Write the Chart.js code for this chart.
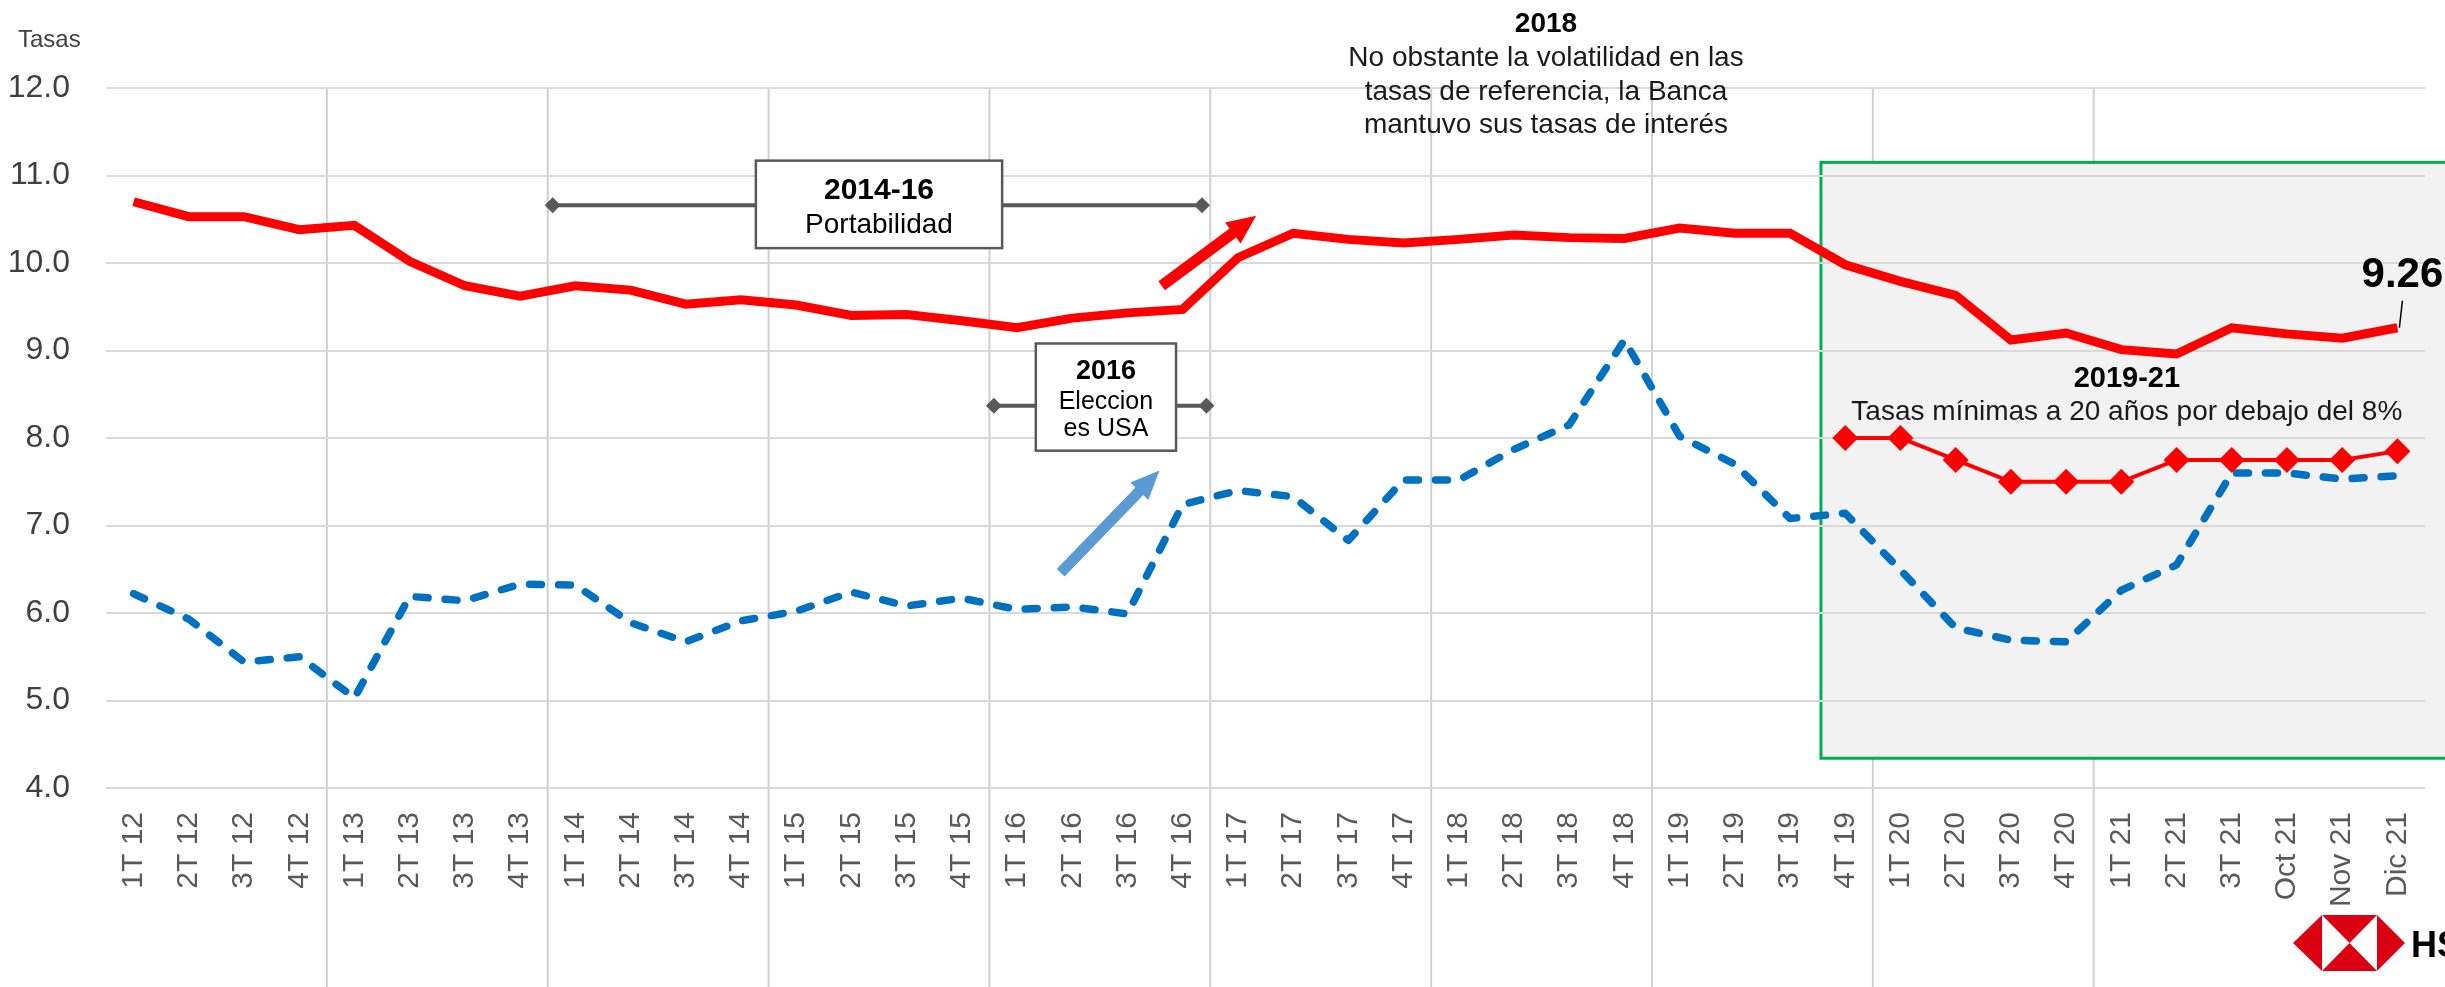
<!DOCTYPE html>
<html lang="es">
<head>
<meta charset="UTF-8">
<title>Tasas de interés</title>
<style>
  html, body { margin: 0; padding: 0; background: #fff; }
  #wrap { width: 2445px; height: 987px; }
</style>
</head>
<body>
<div id="wrap"><canvas id="chart" width="2445" height="987"></canvas></div>
<script src="https://cdn.jsdelivr.net/npm/chart.js"></script>
<script>
// datos
const periodos = [
  '1T 12','2T 12','3T 12','4T 12','1T 13','2T 13','3T 13','4T 13',
  '1T 14','2T 14','3T 14','4T 14','1T 15','2T 15','3T 15','4T 15',
  '1T 16','2T 16','3T 16','4T 16','1T 17','2T 17','3T 17','4T 17',
  '1T 18','2T 18','3T 18','4T 18','1T 19','2T 19','3T 19','4T 19',
  '1T 20','2T 20','3T 20','4T 20','1T 21','2T 21','3T 21',
  'Oct 21','Nov 21','Dic 21'
];
const tasaBanca = [
  10.70, 10.53, 10.53, 10.38, 10.43, 10.02, 9.74, 9.62,
  9.74, 9.69, 9.53, 9.58, 9.52, 9.40, 9.41, 9.34,
  9.26, 9.37, 9.43, 9.47, 10.06, 10.34, 10.27, 10.23,
  10.27, 10.32, 10.29, 10.28, 10.40, 10.34, 10.34, 9.98,
  9.79, 9.63, 9.12, 9.20, 9.01, 8.96, 9.26,
  9.19, 9.14, 9.26
];
const tasaReferencia = [
  6.22, 5.93, 5.44, 5.50, 5.03, 6.19, 6.14, 6.33,
  6.32, 5.89, 5.67, 5.91, 6.02, 6.24, 6.08, 6.17,
  6.04, 6.07, 5.99, 7.24, 7.40, 7.33, 6.83, 7.52,
  7.52, 7.87, 8.15, 9.12, 8.02, 7.70, 7.08, 7.14,
  6.49, 5.83, 5.69, 5.67, 6.26, 6.55, 7.60,
  7.60, 7.53, 7.57
];
const tasaMinima = [
  null, null, null, null, null, null, null, null,
  null, null, null, null, null, null, null, null,
  null, null, null, null, null, null, null, null,
  null, null, null, null, null, null, null, 8.00,
  8.00, 7.75, 7.50, 7.50, 7.50, 7.75, 7.75,
  7.75, 7.75, 7.85
];
const ejeMin = 4;
const ejeMax = 12;
const ejePaso = 1;

const FONT = '"Liberation Sans", Arial, sans-serif';
const ROJO = '#ff0000';

function poly(ctx, pts, color) {
  ctx.beginPath();
  ctx.moveTo(pts[0][0], pts[0][1]);
  for (let i = 1; i < pts.length; i++) ctx.lineTo(pts[i][0], pts[i][1]);
  ctx.closePath();
  ctx.fillStyle = color;
  ctx.fill();
}

function diamond(ctx, x, y, r, color) {
  poly(ctx, [[x - r, y], [x, y - r], [x + r, y], [x, y + r]], color);
}

function arrow(ctx, x1, y1, x2, y2, w, hw, hl, color) {
  const dx = x2 - x1, dy = y2 - y1, len = Math.hypot(dx, dy);
  const ux = dx / len, uy = dy / len, nx = -uy, ny = ux;
  const bx = x2 - ux * hl, by = y2 - uy * hl;
  poly(ctx, [
    [x1 + nx * w / 2, y1 + ny * w / 2],
    [bx + nx * w / 2, by + ny * w / 2],
    [bx + nx * hw / 2, by + ny * hw / 2],
    [x2, y2],
    [bx - nx * hw / 2, by - ny * hw / 2],
    [bx - nx * w / 2, by - ny * w / 2],
    [x1 - nx * w / 2, y1 - ny * w / 2]
  ], color);
}

function bracketBox(chart, x1, x2, yv, bl, br, bt, bb, lines) {
  const {ctx, scales: {x, y}} = chart;
  const px1 = x.getPixelForValue(x1), px2 = x.getPixelForValue(x2), py = y.getPixelForValue(yv);
  ctx.strokeStyle = '#595959';
  ctx.lineWidth = 4;
  ctx.beginPath(); ctx.moveTo(px1, py); ctx.lineTo(px2, py); ctx.stroke();
  diamond(ctx, px1, py, 8, '#595959');
  diamond(ctx, px2, py, 8, '#595959');
  const l = x.getPixelForValue(bl), r = x.getPixelForValue(br);
  const t = y.getPixelForValue(bt), b = y.getPixelForValue(bb);
  ctx.fillStyle = '#ffffff';
  ctx.fillRect(l, t, r - l, b - t);
  ctx.strokeStyle = '#595959';
  ctx.lineWidth = 2.5;
  ctx.strokeRect(l, t, r - l, b - t);
  ctx.textAlign = 'center';
  ctx.textBaseline = 'alphabetic';
  ctx.fillStyle = '#000';
  lines.forEach(([txt, font, dy]) => {
    ctx.font = font;
    ctx.fillText(txt, (l + r) / 2, t + dy);
  });
}

const decor = {
  id: 'decor',
  beforeDraw(chart) {
    const {ctx, chartArea, scales: {x, y}} = chart;
    ctx.save();
    // lineas verticales cada año
    ctx.strokeStyle = '#d0d0d0';
    ctx.lineWidth = 2;
    for (let i = 4; i <= 36; i += 4) {
      const xp = (x.getPixelForValue(i - 1) + x.getPixelForValue(i)) / 2;
      ctx.beginPath(); ctx.moveTo(xp, chartArea.top); ctx.lineTo(xp, chart.height); ctx.stroke();
    }
    // recuadro 2019-21
    const bx = x.getPixelForValue(30.56);
    const by = y.getPixelForValue(11.15);
    const bb = y.getPixelForValue(4.34);
    ctx.fillStyle = '#f2f2f2';
    ctx.fillRect(bx, by, chart.width - bx + 10, bb - by);
    ctx.strokeStyle = '#00b050';
    ctx.lineWidth = 3;
    ctx.strokeRect(bx, by, chart.width - bx + 10, bb - by);
    ctx.restore();
  },
  afterDraw(chart) {
    const {ctx, scales: {x, y}} = chart;
    ctx.save();

    // titulo eje
    ctx.font = '24px ' + FONT;
    ctx.fillStyle = '#404040';
    ctx.textAlign = 'left';
    ctx.textBaseline = 'alphabetic';
    ctx.fillText('Tasas', 18, 47);

    // 2014-16
    bracketBox(chart, 7.59, 19.35, 10.66, 11.27, 15.73, 11.17, 10.17, [
      ['2014-16', 'bold 30px ' + FONT, 38],
      ['Portabilidad', '28px ' + FONT, 72]
    ]);
    // 2016
    bracketBox(chart, 15.58, 19.43, 8.37, 16.34, 18.88, 9.08, 7.855, [
      ['2016', 'bold 27px ' + FONT, 35],
      ['Eleccion', '25px ' + FONT, 65],
      ['es USA', '25px ' + FONT, 92]
    ]);

    // 2018
    const cx18 = x.getPixelForValue(25.58);
    const top = y.getPixelForValue(ejeMax);
    ctx.textAlign = 'center';
    ctx.fillStyle = '#000';
    ctx.font = 'bold 28px ' + FONT;
    ctx.fillText('2018', cx18, top - 56);
    ctx.font = '28px ' + FONT;
    ctx.fillStyle = '#1a1a1a';
    ctx.fillText('No obstante la volatilidad en las', cx18, top - 22);
    ctx.fillText('tasas de referencia, la Banca', cx18, top + 12);
    ctx.fillText('mantuvo sus tasas de interés', cx18, top + 45);

    // 2019-21
    const cx19 = x.getPixelForValue(36.10);
    ctx.fillStyle = '#000';
    ctx.font = 'bold 29px ' + FONT;
    ctx.fillText('2019-21', cx19, y.getPixelForValue(8.58));
    ctx.fillStyle = '#1a1a1a';
    ctx.font = '28px ' + FONT;
    ctx.fillText('Tasas mínimas a 20 años por debajo del 8%', cx19, y.getPixelForValue(8.206));

    // flechas
    arrow(ctx, x.getPixelForValue(18.62), y.getPixelForValue(9.74),
      x.getPixelForValue(20.33), y.getPixelForValue(10.54), 11, 26, 29, ROJO);
    arrow(ctx, x.getPixelForValue(16.79), y.getPixelForValue(6.46),
      x.getPixelForValue(18.58), y.getPixelForValue(7.63), 11, 25, 29, '#5b9bd5');

    // ultimo dato
    const last = tasaBanca.length - 1;
    const lx = x.getPixelForValue(last), ly = y.getPixelForValue(tasaBanca[last]);
    ctx.strokeStyle = '#000';
    ctx.lineWidth = 1.5;
    ctx.beginPath(); ctx.moveTo(lx + 5, ly - 27); ctx.lineTo(lx + 2, ly); ctx.stroke();
    ctx.fillStyle = '#000';
    ctx.font = 'bold 42px ' + FONT;
    ctx.fillText(tasaBanca[last].toFixed(2), lx + 5, ly - 41);

    // logo
    const L = 2293, T = 915, B = 971, sl = 2322, sr = 2377, R = 2405, cy = 943, cx = (sl + sr) / 2;
    const rl = '#db0011';
    poly(ctx, [[sl, T], [sr, T], [sr, B], [sl, B]], '#ffffff');
    poly(ctx, [[L, cy], [sl, T], [sl, B]], rl);
    poly(ctx, [[R, cy], [sr, T], [sr, B]], rl);
    poly(ctx, [[sl, T], [sr, T], [cx, cy]], rl);
    poly(ctx, [[sl, B], [sr, B], [cx, cy]], rl);
    ctx.fillStyle = '#000';
    ctx.textAlign = 'left';
    ctx.font = 'bold 36px ' + FONT;
    ctx.fillText('HSBC', 2411, 957);

    ctx.restore();
  }
};

new Chart(document.getElementById('chart').getContext('2d'), {
  type: 'line',
  data: {
    labels: periodos,
    datasets: [
      {
        label: 'Tasa Banca',
        data: tasaBanca,
        borderColor: ROJO,
        borderWidth: 9,
        pointRadius: 0,
        tension: 0
      },
      {
        label: 'Tasa mínima',
        data: tasaMinima,
        borderColor: ROJO,
        backgroundColor: ROJO,
        borderWidth: 4,
        pointStyle: 'rectRot',
        pointRadius: 13,
        pointBackgroundColor: ROJO,
        pointBorderWidth: 0,
        tension: 0,
        spanGaps: false
      },
      {
        label: 'Tasa de referencia',
        data: tasaReferencia,
        borderColor: '#0070c0',
        borderWidth: 7.5,
        borderDash: [12, 17],
        borderCapStyle: 'round',
        borderJoinStyle: 'round',
        pointRadius: 0,
        tension: 0
      }
    ]
  },
  options: {
    responsive: false,
    animation: false,
    devicePixelRatio: 1,
    layout: { padding: { top: 88, right: 20, left: 0, bottom: 0 } },
    plugins: { legend: { display: false }, tooltip: { enabled: false } },
    scales: {
      x: {
        offset: true,
        grid: { display: false, drawTicks: false },
        border: { display: false },
        ticks: {
          autoSkip: false,
          minRotation: 90,
          maxRotation: 90,
          padding: 24,
          color: '#595959',
          font: { family: '"Liberation Sans", Arial, sans-serif', size: 30 }
        },
        afterFit(scale) {
          scale.height = 199;
          scale.paddingLeft = 0;
          scale.paddingRight = 0;
        }
      },
      y: {
        min: ejeMin,
        max: ejeMax,
        grid: { color: '#d9d9d9', lineWidth: 2, drawTicks: false },
        border: { display: false },
        ticks: {
          stepSize: ejePaso,
          padding: 36,
          color: '#404040',
          font: { family: '"Liberation Sans", Arial, sans-serif', size: 32 },
          callback: v => Number(v).toFixed(1)
        },
        afterFit(scale) {
          scale.width = 106;
          scale.paddingTop = 0;
          scale.paddingBottom = 0;
        }
      }
    }
  },
  plugins: [decor]
});
</script>
</body>
</html>
